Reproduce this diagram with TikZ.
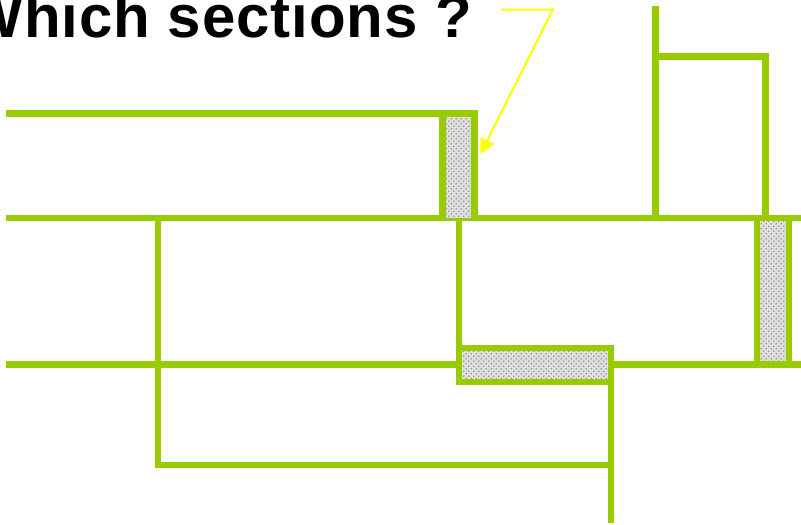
\documentclass[tikz,border=0pt]{standalone}
\usepackage{fontspec}
\setmainfont{Liberation Sans}
\newfontfamily\titlefont[LetterSpace=1.5]{Liberation Sans}
\usetikzlibrary{patterns,arrows.meta}
\definecolor{lgreen}{RGB}{153,204,0}
\definecolor{shade}{RGB}{222,222,222}
\definecolor{dotc}{RGB}{150,150,150}
\definecolor{callout}{RGB}{255,255,0}
\pgfdeclarepatternformonly{sparsedots}{\pgfqpoint{-1pt}{-1pt}}{\pgfqpoint{6pt}{6pt}}{\pgfqpoint{5pt}{5pt}}{%
  \pgfpathrectangle{\pgfqpoint{0.5pt}{0.5pt}}{\pgfqpoint{1.3pt}{1.3pt}}%
  \pgfpathrectangle{\pgfqpoint{3pt}{3pt}}{\pgfqpoint{1.3pt}{1.3pt}}%
  \pgfusepath{fill}}
\begin{document}
\begin{tikzpicture}[x=1pt,y=-1pt,
  wire/.style={draw=lgreen,line width=6.5pt},
  cell/.style={fill=shade,postaction={pattern=sparsedots,pattern color=dotc}},
  cellframe/.style={draw=lgreen,line width=6.5pt},
  callline/.style={draw=callout,line width=2pt}]
\useasboundingbox (0,0) rectangle (801,525);
% title
\node[anchor=base east,inner sep=0pt,font=\titlefont\fontsize{60}{60}\selectfont\bfseries] (title) at (472,37) {Which sections ?};
% main horizontal wires
\draw[wire] (6,113.5) -- (442.5,113.5);
\draw[wire] (6,218) -- (801,218);
\draw[wire] (6,364.5) -- (801,364.5);
% left loop
\draw[wire] (158,218) -- (158,465) -- (611,465);
% bottom vertical
\draw[wire] (611,348) -- (611,523);
% vertical under box 1 to box 3
\draw[wire] (459,218) -- (459,348);
% top right branch
\draw[wire] (655.5,6) -- (655.5,218);
\draw[wire] (655.5,56.5) -- (765.5,56.5) -- (765.5,218);
% shaded cells
\fill[cell] (442.5,113.5) rectangle (474.5,218);
\draw[cellframe] (442.5,218) -- (442.5,113.5) -- (474.5,113.5) -- (474.5,218);
\fill[cell] (757,218) rectangle (789,364.5);
\draw[cellframe] (757,218) rectangle (789,364.5);
\fill[cell] (459,348) rectangle (611,382);
\draw[cellframe] (459,348) rectangle (611,382);
% callout
\coordinate (c1) at (501,9.5);
\coordinate (c2) at (553,9.5);
\coordinate (tip) at (480.5,154);
\draw[callline,-{Triangle[length=15pt,width=15pt]}] (c1) -- (c2) -- (tip);
\end{tikzpicture}
\end{document}
